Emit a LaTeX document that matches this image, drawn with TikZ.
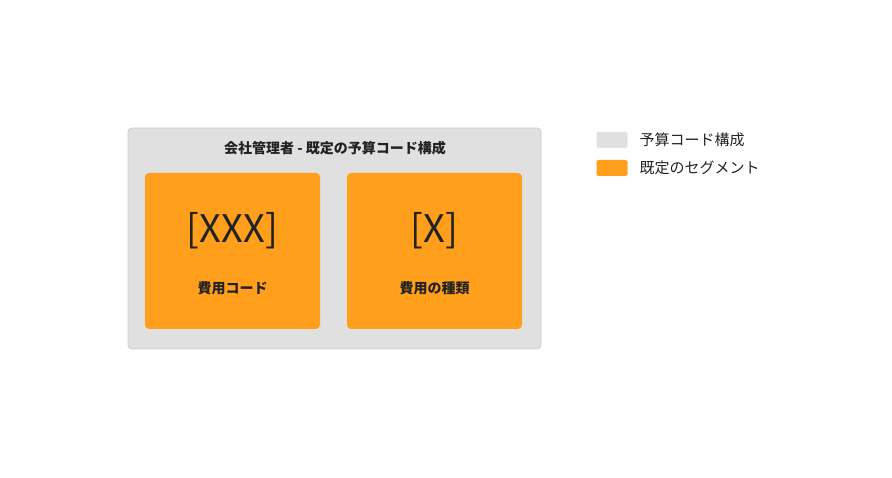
\documentclass[tikz,border=0pt]{standalone}
\usepackage{fontspec}
\setmainfont{Noto Sans CJK JP}
\definecolor{boxgray}{HTML}{E0E0E0}
\definecolor{boxedge}{HTML}{CCCCCC}
\definecolor{seg}{HTML}{FF9F1C}
\definecolor{txt}{HTML}{222222}
\begin{document}
\begin{tikzpicture}[x=1pt,y=1pt,
  outer/.style={draw=boxedge,fill=boxgray,rounded corners=4pt,line width=0.8pt},
  segbox/.style={fill=seg,rounded corners=4pt},
  swatch/.style={rounded corners=2pt,minimum width=31pt,minimum height=16pt,inner sep=0pt},
  lbl/.style={text=txt,font=\fontsize{14}{16}\selectfont\bfseries},
  big/.style={text=txt,font=\fontsize{38}{42}\selectfont},
  leg/.style={text=txt,font=\fontsize{15}{17}\selectfont,anchor=west}]
\useasboundingbox (0,0) rectangle (892,-478);
\draw[outer] (128,-128) rectangle (541,-349);
\node[lbl] (title) at (335,-148) {会社管理者 - 既定の予算コード構成};
\fill[segbox] (145,-173) rectangle (320,-329);
\fill[segbox] (347,-173) rectangle (522,-329);
\node[big] (c1) at (232.5,-231) {[XXX]};
\node[lbl] (l1) at (232.5,-288) {費用コード};
\node[big] (c2) at (434.5,-231) {[X]};
\node[lbl] (l2) at (434.5,-288) {費用の種類};
\node[swatch,fill=boxgray] (s1) at (612,-140) {};
\node[leg] (t1) at (636,-140) {予算コード構成};
\node[swatch,fill=seg] (s2) at (612,-168) {};
\node[leg] (t2) at (636,-168) {既定のセグメント};
\end{tikzpicture}
\end{document}
